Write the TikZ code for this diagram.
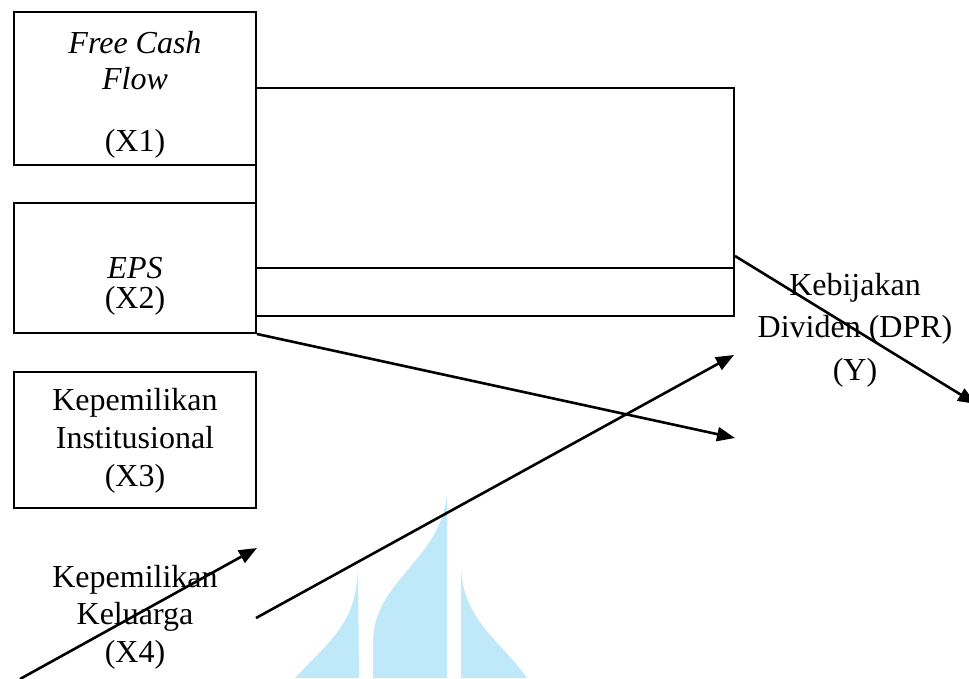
\documentclass[tikz,border=0pt]{standalone}
\usepackage{fontspec}
\setmainfont{Liberation Serif}
\usetikzlibrary{arrows.meta}
\definecolor{wmblue}{RGB}{191,233,248}
\tikzset{
	varbox/.style={draw, line width=2pt, minimum width=242pt, align=center, inner sep=0pt},
	emptybox/.style={draw, line width=2pt, minimum width=478pt, inner sep=0pt},
	arrowline/.style={line width=2.6pt, -{Triangle[length=18pt,width=14pt]}}
}

\begin{document}
\begin{tikzpicture}[x=1pt,y=-1pt,font=\fontsize{32}{36}\selectfont]
	\useasboundingbox (0,0) rectangle (969,678);

	\fill [wmblue] (295,678) .. controls (330,640) and (356,625) .. (358,568) -- (359,678) -- cycle;
	\fill [wmblue] (373,678) -- (373,640) .. controls (375,580) and (440,560) .. (447,495) -- (447,678) -- cycle;
	\fill [wmblue] (461,568) .. controls (463,620) and (500,640) .. (527,678) -- (461,678) -- cycle;

	\node [varbox, text height=139pt, text depth=14pt] (X1) at (135,88.5) {\textit{Free Cash}\\\textit{Flow}\\[26pt](X1)};
	\node [varbox, text height=105pt, text depth=25pt, font=\fontsize{32}{30}\selectfont] (X2) at (135,268) {\textit{EPS}\\(X2)};
	\node [varbox, text height=114pt, text depth=22pt, font=\fontsize{32}{38}\selectfont] (X3) at (135,440) {Kepemilikan\\Institusional\\(X3)};
	\node [align=center, anchor=base, font=\fontsize{32}{37.5}\selectfont] (X4) at (135,662) {Kepemilikan\\Keluarga\\(X4)};
	\node [align=center, anchor=base, font=\fontsize{32}{42.5}\selectfont] (Y) at (855,380) {Kebijakan\\Dividen (DPR)\\(Y)};

	\node [emptybox, minimum height=180pt] (upper) at (495,178) {};
	\node [emptybox, minimum height=48pt] (lower) at (495,292) {};

	\coordinate (t1) at (976,404);
	\coordinate (t2) at (735,438);
	\coordinate (s3) at (256,618);
	\coordinate (t3) at (734,355);
	\coordinate (s4) at (20,679);
	\coordinate (t4) at (257,548);
	\draw [arrowline] (upper.-18)--(t1);
	\draw [arrowline] (X2.south east)--(t2);
	\draw [arrowline] (s3)--(t3);
	\draw [arrowline] (s4)--(t4);
\end{tikzpicture}
\end{document}
